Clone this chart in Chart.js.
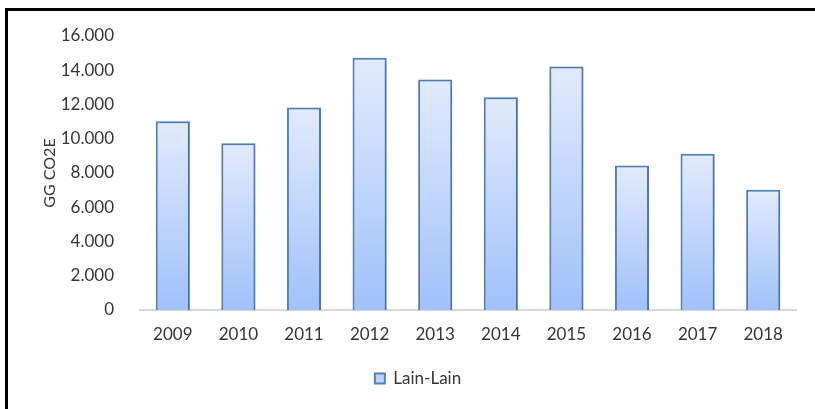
<!DOCTYPE html>
<html>
<head>
<meta charset="utf-8">
<script src="https://cdn.jsdelivr.net/npm/chart.js@4/dist/chart.umd.min.js"></script>
<style>
  body { margin: 0; background: #fff; }
  #wrap { position: relative; width: 815px; height: 409px; }
  #frame { position: absolute; left: 5px; top: 8px; right: 0; bottom: 0;
           border-top: 3px solid #000; border-left: 3px solid #000; }
  canvas { position: absolute; left: 0; top: 0; }
</style>
</head>
<body>
<div id="wrap">
  <div id="frame"></div>
  <canvas id="myChart" width="815" height="409"></canvas>
</div>
<script>
    // years and emissions (Gg CO2e)
    const YEARS = ['2009', '2010', '2011', '2012', '2013', '2014', '2015', '2016', '2017', '2018']
    const LAIN_LAIN = [11020, 9740, 11830, 14730, 13460, 12430, 14220, 8440, 9120, 7020]
    const Y_TICKS = [0, 2000, 4000, 6000, 8000, 10000, 12000, 14000, 16000]

    const TEXT_COLOR = '#363636'
    const FONT = "Lato, 'Open Sans', sans-serif"

    // excel style: each bar light at top, darker blue at bottom
    function barGradient(context) {
      let chart = context.chart
      let yScale = chart.scales.y
      if (!chart.chartArea || !yScale || context.raw === undefined) return '#c5d7fb'
      let top = yScale.getPixelForValue(context.raw)
      let bottom = yScale.getPixelForValue(0)
      let g = chart.ctx.createLinearGradient(0, top, 0, bottom)
      g.addColorStop(0, 'rgb(226, 235, 253)')
      g.addColorStop(1, 'rgb(160, 193, 250)')
      return g
    }

    const shadowPlugin = {
      id: 'barShadow',
      beforeDatasetsDraw(chart) {
        let ctx = chart.ctx
        ctx.save()
        ctx.shadowColor = 'rgba(0, 0, 0, 0.25)'
        ctx.shadowBlur = 3
        ctx.shadowOffsetX = 1
        ctx.shadowOffsetY = 1
      },
      afterDatasetsDraw(chart) {
        chart.ctx.restore()
      }
    }

    const data = {
      labels: YEARS,
      datasets: [{
        label: 'Lain-Lain',
        data: LAIN_LAIN,
        backgroundColor: barGradient,
        borderColor: 'rgb(79, 129, 189)',
        borderWidth: 2,
        borderSkipped: 'bottom',
        categoryPercentage: 1,
        barPercentage: 0.52
      }]
    }

    const config = {
      type: 'bar',
      data: data,
      options: {
        responsive: false,
        animation: false,
        devicePixelRatio: 1,
        // left padding 40 so the legend centres where the original one does
        layout: { padding: { top: 36, right: 19, bottom: 12, left: 40 } },
        plugins: {
          tooltip: { enabled: false },
          legend: {
            position: 'bottom',
            labels: {
              color: TEXT_COLOR,
              font: { family: FONT, size: 17 },
              boxWidth: 10,
              boxHeight: 10,
              padding: 10,
              generateLabels(chart) {
                let items = Chart.defaults.plugins.legend.labels.generateLabels(chart)
                items.forEach(it => {
                  it.fillStyle = 'rgb(190, 210, 251)'
                  it.strokeStyle = 'rgb(79, 129, 189)'
                  it.lineWidth = 2
                })
                return items
              }
            }
          }
        },
        scales: {
          x: {
            grid: { drawOnChartArea: false, drawTicks: false },
            border: { display: true, color: '#d9d9d9', width: 2 },
            ticks: { color: TEXT_COLOR, font: { family: FONT, size: 17 }, padding: 14, maxRotation: 0 },
            afterFit(scale) { scale.height = 50 }
          },
          y: {
            min: 0,
            max: 16000,
            afterBuildTicks(scale) { scale.ticks = Y_TICKS.map(v => ({ value: v })) },
            grid: { display: false },
            border: { display: false },
            ticks: {
              color: TEXT_COLOR,
              font: { family: FONT, size: 17 },
              padding: 18,
              callback: v => String(v).replace(/\B(?=(\d{3})+(?!\d))/g, '.')
            },
            title: {
              display: true,
              text: 'GG CO2E',
              color: TEXT_COLOR,
              font: { family: FONT, size: 16 },
              padding: { top: 0, bottom: 0 }
            },
            afterFit(scale) { scale.width = 100 }
          }
        }
      },
      plugins: [shadowPlugin]
    }

    const myChart = new Chart(document.getElementById('myChart'), config)
</script>
</body>
</html>
